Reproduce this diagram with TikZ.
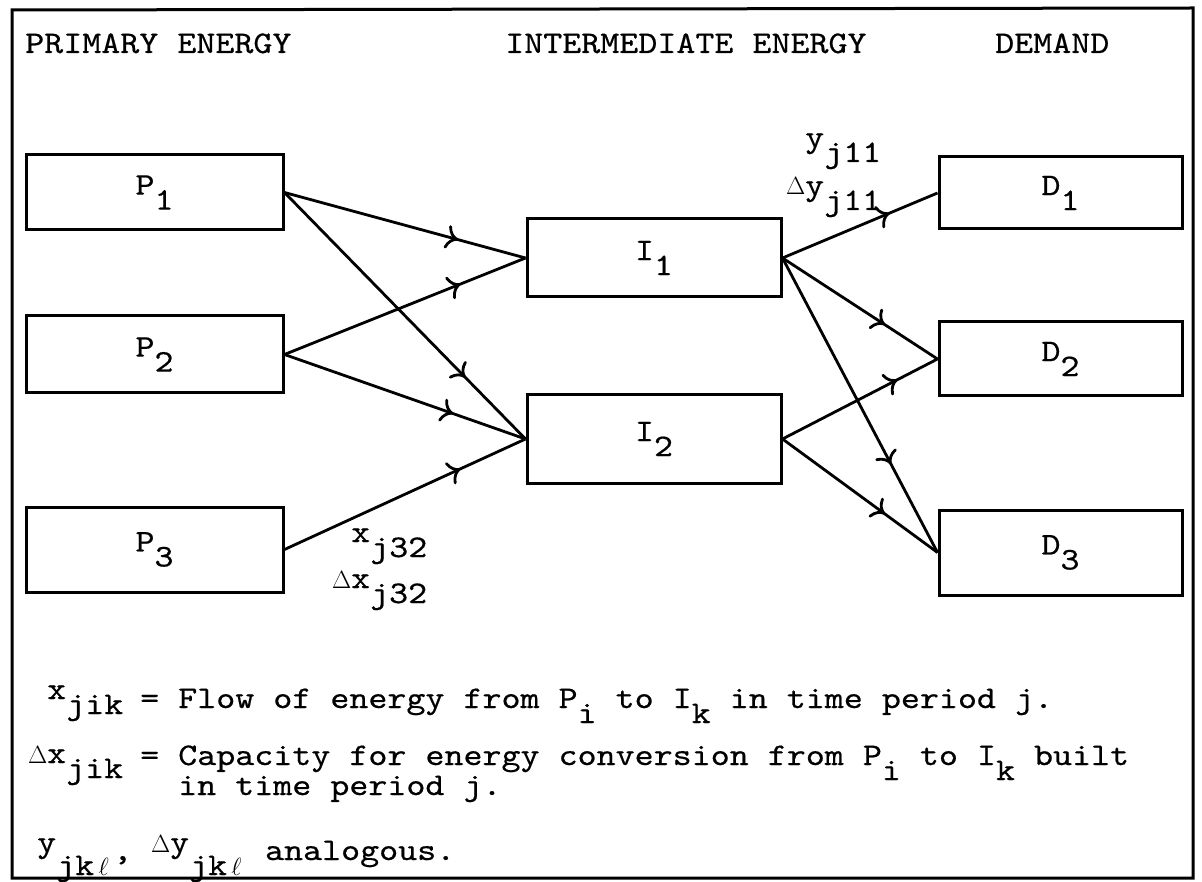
\documentclass[tikz,border=0pt]{standalone}
\usepackage{fontspec}
\setmainfont[FakeStretch=1.15, FakeBold=0.5]{lmmono10-regular.otf}
\usepackage{tikz}
\usetikzlibrary{arrows.meta, decorations.markings}
\newcommand{\lo}[1]{\raisebox{-15pt}{#1}}
\newcommand{\hi}[1]{\raisebox{8pt}{#1}}
\newcommand{\dlt}{\makebox[0.6em]{\fontsize{23pt}{23pt}\selectfont$\Delta$}}
\newcommand{\ltr}{\makebox[0.6em]{\fontsize{34pt}{34pt}\selectfont$\ell$}}
\tikzset{
    box/.style={draw, line width=3pt, inner sep=0pt},
    txt/.style={anchor=base west, inner sep=0pt},
    frame/.style={line width=3pt},
    flow/.style={line width=2.8pt, postaction={decorate},
        decoration={markings, mark=at position #1 with {\arrow{To[length=12pt, width=24pt]}}}},
    flow/.default=0.7
}
\begin{document}
\begin{tikzpicture}[x=1pt, y=-1pt, every node/.style={font=\fontsize{31.5pt}{36pt}\selectfont}]
        \useasboundingbox (0,0) rectangle (1202,882);
        % Outer frame
        \draw[frame] (12,10) -- (1193,8) -- (1193,878) -- (12,878) -- cycle;

        % Column headings
        \node[txt] (hPrim) at (25,53) {PRIMARY ENERGY};
        \node[txt] (hInter) at (505,53) {INTERMEDIATE ENERGY};
        \node[txt] (hDem) at (995,53) {DEMAND};

        % Primary energy boxes
        \node[box, minimum width=257pt, minimum height=75pt] (P1) at (154.5,192.5) {P\lo{1}};
        \node[box, minimum width=257pt, minimum height=77pt] (P2) at (154.5,354.5) {P\lo{2}};
        \node[box, minimum width=257pt, minimum height=85pt] (P3) at (154.5,549.5) {P\lo{3}};

        % Intermediate energy boxes
        \node[box, minimum width=254pt, minimum height=78pt] (I1) at (654,258) {I\lo{1}};
        \node[box, minimum width=254pt, minimum height=88pt] (I2) at (654,439) {I\lo{2}};

        % Demand boxes
        \node[box, minimum width=243pt, minimum height=72pt] (D1) at (1060.5,193) {D\lo{1}};
        \node[box, minimum width=243pt, minimum height=74pt] (D2) at (1060.5,359) {D\lo{2}};
        \node[box, minimum width=243pt, minimum height=85pt] (D3) at (1060.5,552.5) {D\lo{3}};

        % Flows: primary to intermediate
        \draw[flow=0.72] (P1.east) -- (I1.west);
        \draw[flow=0.75] (P1.east) -- (I2.west);
        \draw[flow=0.73] (P2.east) -- (I1.west);
        \draw[flow=0.70] (P2.east) -- (I2.west);
        \draw[flow=0.73] (P3.east) -- (I2.west);

        % Flows: intermediate to demand
        \draw[flow=0.69] (I1.east) -- (D1.west);
        \draw[flow=0.66] (I1.east) -- (D2.west);
        \draw[flow=0.70] (I1.east) -- (D3.west);
        \draw[flow=0.74] (I2.east) -- (D2.west);
        \draw[flow=0.66] (I2.east) -- (D3.west);

        % Flow labels
        \node[txt] (ylab) at (805,147) {y\lo{j11}};
        \node[txt] (dylab) at (786,195) {\dlt y\lo{j11}};
        \node[txt] (xlab) at (351,542) {x\lo{j32}};
        \node[txt] (dxlab) at (332,588) {\dlt x\lo{j32}};

        % Legend
        \node[txt] (xdef) at (47,699) {x\lo{jik}};
        \node[txt] (xtext) at (140,708) {= Flow of energy from P\lo{i} to I\lo{k} in time period j.};
        \node[txt] (dxdef) at (28,763) {\dlt x\lo{jik}};
        \node[txt] (dxtext) at (140,765) {= Capacity for energy conversion from P\lo{i} to I\lo{k} built};
        \node[txt] (dxtext2) at (178,795) {in time period j.};
        \node[txt] (ydef) at (37,860) {\hi{y}\lo{jk\ltr}, \hi{\dlt y}\lo{jk\ltr} analogous.};
    \end{tikzpicture}
\end{document}
